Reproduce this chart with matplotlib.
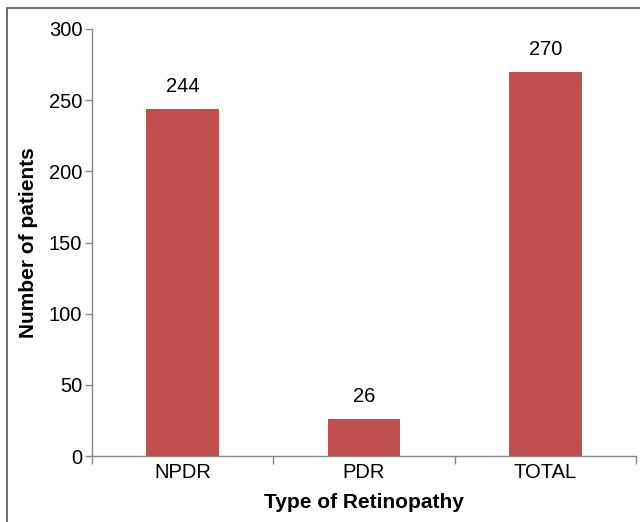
import matplotlib.pyplot as plt
from matplotlib.patches import Rectangle

categories = ['NPDR', 'PDR', 'TOTAL']
patients = [244, 26, 270]
yticks = [0, 50, 100, 150, 200, 250, 300]

plt.rcParams['font.family'] = ['Liberation Sans', 'DejaVu Sans']

fig = plt.figure(figsize=(6.4, 5.22), dpi=100)
ax = fig.add_axes([92 / 640, 1 - 456 / 522, 544 / 640, 427 / 522])

# outer frame around the whole picture
fig.patches.append(Rectangle((7 / 640, -0.05), 1.1, 1 - 8 / 522 + 0.05,
                             transform=fig.transFigure, fill=False,
                             edgecolor='#555555', linewidth=1.2))

x = list(range(len(categories)))
ax.bar(x, patients, width=0.4, color='#C0504D')

for xi, v in zip(x, patients):
    ax.annotate(str(v), (xi, v), xytext=(0, 9), textcoords='offset points',
                ha='center', va='bottom', fontsize=14.5)

ax.set_xlim(-0.5, len(categories) - 0.5)
ax.set_ylim(0, 300)
ax.set_yticks(yticks)
ax.set_xticks(x)
ax.set_xticklabels(categories, fontsize=14.5)
ax.set_xticks([i - 0.5 for i in range(len(categories) + 1)], minor=True)
ax.tick_params(axis='x', which='major', length=0, pad=5)
ax.tick_params(axis='x', which='minor', length=6, color='#888888', width=1)
ax.tick_params(axis='y', length=5, color='#888888', width=1, labelsize=14.5, pad=2)

for s in ['top', 'right']:
    ax.spines[s].set_visible(False)
for s in ['left', 'bottom']:
    ax.spines[s].set_color('#888888')
    ax.spines[s].set_linewidth(1)

ax.set_xlabel('Type of Retinopathy', fontsize=15, fontweight='bold', labelpad=8)
ax.set_ylabel('Number of patients', fontsize=15, fontweight='bold', labelpad=8)

fig.savefig('out.png', dpi=100)
